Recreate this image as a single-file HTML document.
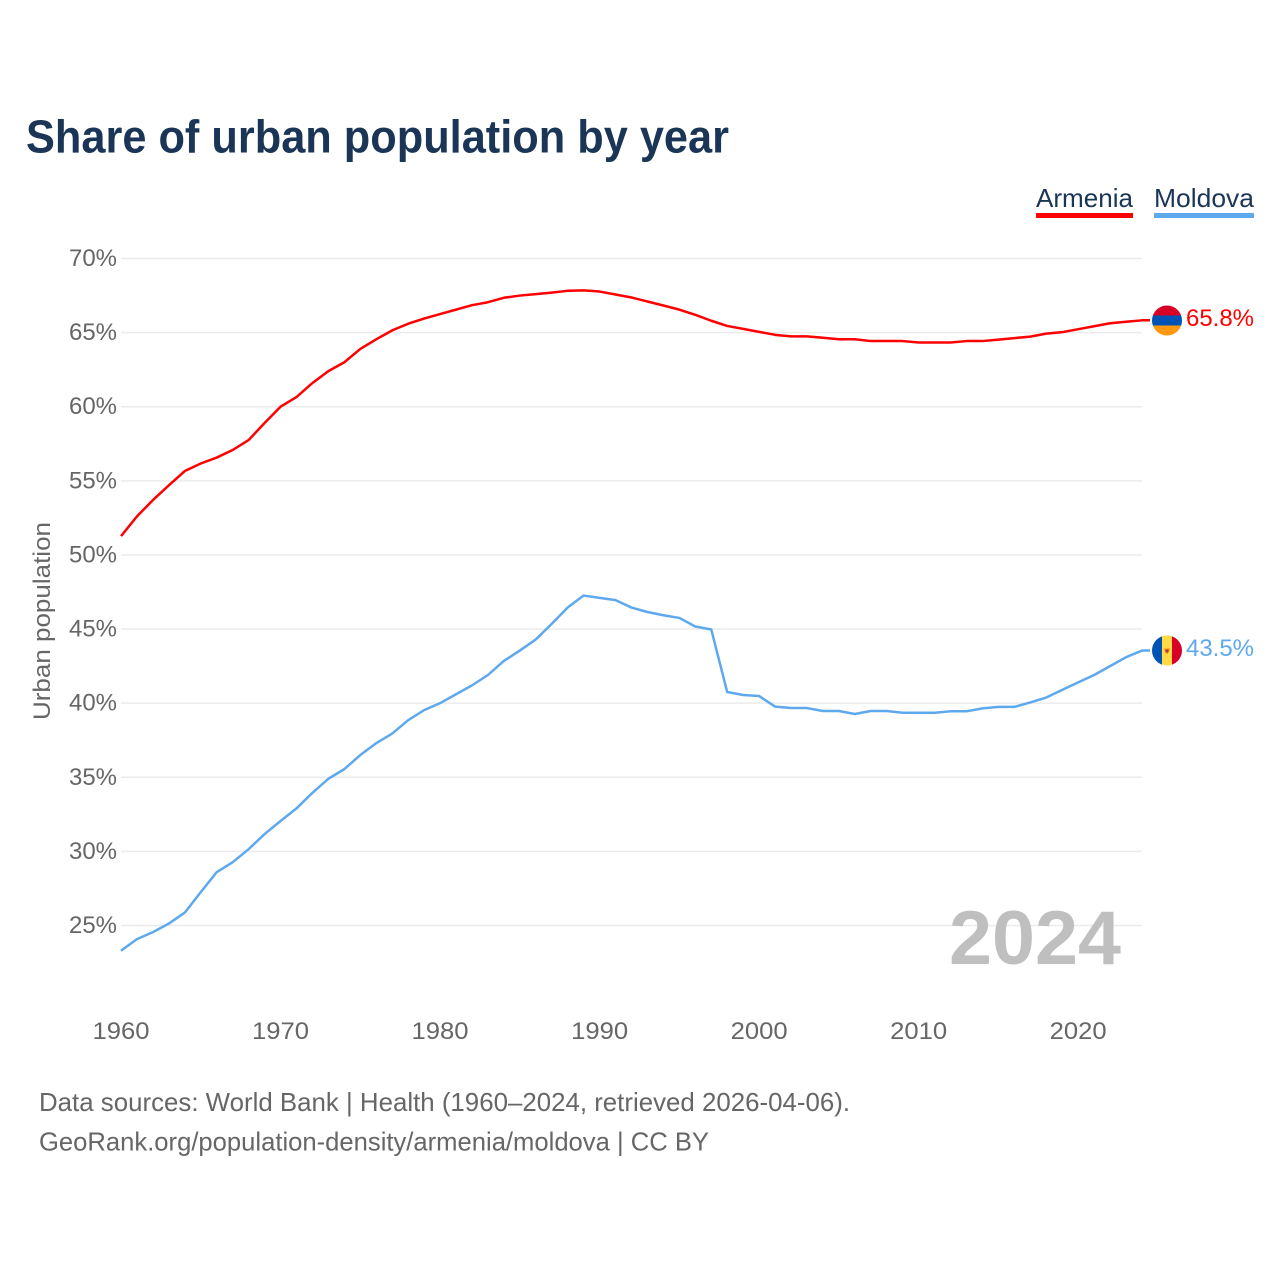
<!DOCTYPE html>
<html lang="en">
<head>
<meta charset="utf-8">
<title>Share of urban population by year</title>
<style>
html,body{margin:0;padding:0;background:#fff;width:1280px;height:1280px;overflow:hidden}
svg{display:block;font-family:"Liberation Sans",sans-serif}
</style>
</head>
<body>
<svg id="chart" xmlns="http://www.w3.org/2000/svg" width="1280" height="1280" viewBox="0 0 1280 1280">
  <rect width="1280" height="1280" fill="#ffffff"/>
  <text x="26" y="152.5" font-size="46" font-weight="700" fill="#1a3556" textLength="703" lengthAdjust="spacingAndGlyphs">Share of urban population by year</text>

  <g>
    <g>
      <text x="1036" y="207" font-size="26" fill="#1a3556" textLength="97" lengthAdjust="spacingAndGlyphs">Armenia</text>
      <rect x="1036" y="213" width="97" height="5" fill="#ff0000"/>
    </g>
    <g>
      <text x="1154" y="207" font-size="26" fill="#1a3556" textLength="100" lengthAdjust="spacingAndGlyphs">Moldova</text>
      <rect x="1154" y="213" width="100" height="5" fill="#5ea8ee"/>
    </g>
  </g>

  <g id="grid"></g>
  <g id="yticks"></g>
  <g id="xticks"></g>
  <text transform="translate(50,720) rotate(-90)" font-size="24" fill="#666666" textLength="198" lengthAdjust="spacingAndGlyphs">Urban population</text>

  <text x="949" y="964" font-size="76" font-weight="700" fill="#bfbfbf" textLength="172" lengthAdjust="spacingAndGlyphs">2024</text>

  <g id="series"></g>

  <defs>
    <clipPath id="clip-am"><circle cx="1167" cy="320.5" r="15"/></clipPath>
    <clipPath id="clip-md"><circle cx="1167" cy="650.5" r="15"/></clipPath>
  </defs>
  <g clip-path="url(#clip-am)">
    <rect x="1152" y="305.5" width="30" height="10" fill="#d80027"/>
    <rect x="1152" y="315.5" width="30" height="10" fill="#0052b4"/>
    <rect x="1152" y="325.5" width="30" height="10" fill="#ff9811"/>
  </g>
  <g clip-path="url(#clip-md)">
    <rect x="1152" y="635.5" width="10" height="30" fill="#0052b4"/>
    <rect x="1162" y="635.5" width="10" height="30" fill="#ffda44"/>
    <rect x="1172" y="635.5" width="10" height="30" fill="#d80027"/>
    <path d="M1163.5 648.5h7l-1.5 3-2 3-2-3z" fill="#ff9811"/>
    <rect x="1165.5" y="649.5" width="3" height="3" fill="#a2384d"/>
  </g>
  <text x="1186" y="326" font-size="24" fill="#ff0000" textLength="68" lengthAdjust="spacingAndGlyphs">65.8%</text>
  <text x="1186" y="656" font-size="24" fill="#5ea8ee" textLength="68" lengthAdjust="spacingAndGlyphs">43.5%</text>

  <text x="39" y="1111" font-size="26" fill="#666666" textLength="811" lengthAdjust="spacingAndGlyphs">Data sources: World Bank | Health (1960–2024, retrieved 2026-04-06).</text>
  <text x="39" y="1150.5" font-size="26" fill="#666666" textLength="670" lengthAdjust="spacingAndGlyphs">GeoRank.org/population-density/armenia/moldova | CC BY</text>
</svg>
<script>
const startYear = 1960;
const yTickValues = [25, 30, 35, 40, 45, 50, 55, 60, 65, 70];
const xTickValues = [1960, 1970, 1980, 1990, 2000, 2010, 2020];
const armeniaValues = [
  51.27, 52.6, 53.7, 54.7, 55.66, 56.17, 56.57, 57.08, 57.75, 58.9,
  60.0, 60.65, 61.6, 62.4, 63.0, 63.9, 64.55, 65.15, 65.6, 65.95,
  66.25, 66.55, 66.85, 67.05, 67.35, 67.5, 67.6, 67.7, 67.82, 67.85,
  67.77, 67.57, 67.37, 67.1, 66.83, 66.55, 66.2, 65.8, 65.45, 65.25,
  65.05, 64.85, 64.75, 64.75, 64.65, 64.55, 64.55, 64.43, 64.43, 64.43,
  64.33, 64.33, 64.33, 64.43, 64.43, 64.53, 64.63, 64.73, 64.93, 65.03,
  65.23, 65.43, 65.63, 65.73, 65.83
];
const moldovaValues = [
  23.3, 24.08, 24.55, 25.13, 25.87, 27.25, 28.6, 29.27, 30.15, 31.17,
  32.05, 32.9, 33.95, 34.9, 35.55, 36.5, 37.3, 37.95, 38.85, 39.53,
  40.0, 40.6, 41.2, 41.9, 42.85, 43.55, 44.3, 45.35, 46.45, 47.26,
  47.1, 46.95, 46.45, 46.15, 45.93, 45.75, 45.17, 44.97, 40.75, 40.55,
  40.48, 39.77, 39.67, 39.67, 39.47, 39.47, 39.27, 39.47, 39.47, 39.35,
  39.35, 39.35, 39.45, 39.45, 39.65, 39.75, 39.75, 40.05, 40.38, 40.9,
  41.4, 41.9, 42.5, 43.1, 43.55
];

const NS = 'http://www.w3.org/2000/svg';
function xScale(year) { return 121 + (year - 1960) * 15.953; }
function yScale(value) { return 258.5 + (70 - value) * 14.822; }
function make(tag, attrs, parent) {
  const el = document.createElementNS(NS, tag);
  for (const k in attrs) el.setAttribute(k, attrs[k]);
  parent.appendChild(el);
  return el;
}
const gridGroup = document.getElementById('grid');
const yTickGroup = document.getElementById('yticks');
const xTickGroup = document.getElementById('xticks');
const seriesGroup = document.getElementById('series');

yTickValues.forEach(function (v) {
  const line = make('line', { x1: 121, x2: 1142, y1: yScale(v), y2: yScale(v), stroke: '#ebebeb', 'stroke-width': 1.5 }, gridGroup);
  
  
  const label = make('text', { x: 117, y: yScale(v) + 7.5, 'text-anchor': 'end', 'font-size': 24, fill: '#666666', textLength: 48, lengthAdjust: 'spacingAndGlyphs' }, yTickGroup);
  
  
  label.textContent = v + '%';
});

xTickValues.forEach(function (yr) {
  const label = make('text', { x: xScale(yr), y: 1039, 'text-anchor': 'middle', 'font-size': 24, fill: '#666666', textLength: 57, lengthAdjust: 'spacingAndGlyphs' }, xTickGroup);
  
  
  label.textContent = yr;
});

function drawSeries(values, color) {
  const d = values.map(function (v, i) {
    return (i ? 'L' : 'M') + xScale(startYear + i).toFixed(2) + ' ' + yScale(v).toFixed(2);
  }).join('');
  const last = values[values.length - 1];
  const lastX = xScale(startYear + values.length - 1);
  return make('path', {
    d: d + 'L' + (lastX + 8).toFixed(2) + ' ' + yScale(last).toFixed(2),
    fill: 'none', stroke: color, 'stroke-width': 2.5, 'stroke-linejoin': 'round'
  }, seriesGroup);
}
const armeniaLine = drawSeries(armeniaValues, '#ff0000');


const moldovaLine = drawSeries(moldovaValues, '#5ea8ee');


</script>
</body>
</html>
